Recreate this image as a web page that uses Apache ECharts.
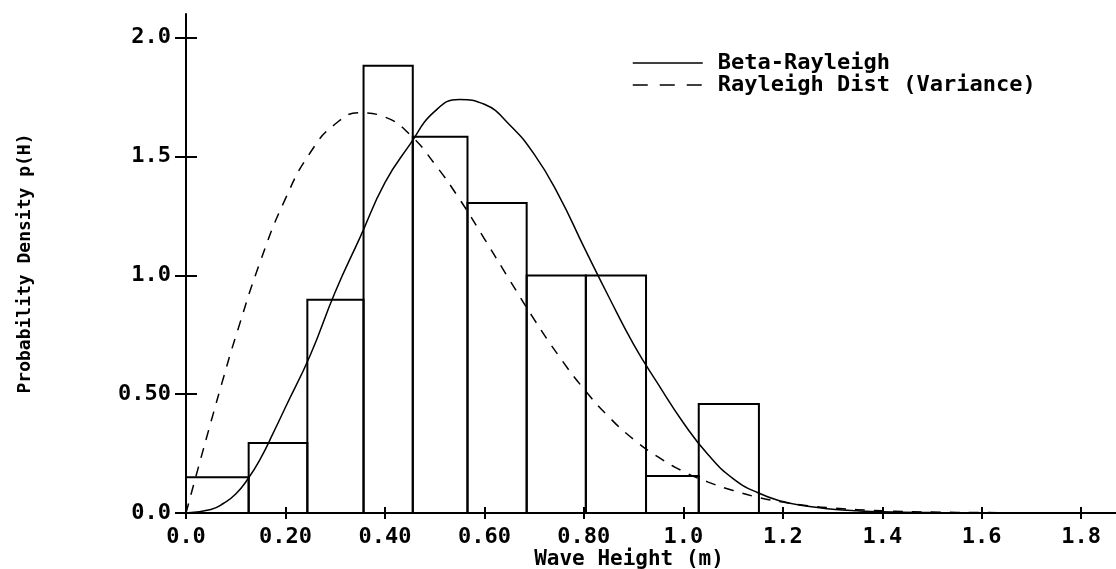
<!DOCTYPE html>
<html>
<head>
<meta charset="utf-8">
<script src="https://cdn.jsdelivr.net/npm/echarts@6/dist/echarts.min.js"></script>
<style>html,body{margin:0;padding:0;background:#fff;}#c{width:1116px;height:569px;}</style>
</head>
<body>
<div id="c"></div>
<script>
// Histogram bins (wave height, m) and observed probability density
const binStart  = [0, 0.126, 0.244, 0.357, 0.456, 0.566, 0.685, 0.804, 0.925, 1.031];
const binEnd    = [0.126, 0.244, 0.357, 0.456, 0.566, 0.685, 0.804, 0.925, 1.031, 1.152];
const binHeight = [0.15, 0.295, 0.897, 1.882, 1.583, 1.305, 1.0, 1.0, 0.156, 0.459];

// Beta-Rayleigh curve
const betaH = [0, 0.05, 0.075, 0.1, 0.125, 0.15, 0.175, 0.2, 0.25, 0.3, 0.35, 0.4, 0.45, 0.5, 0.55, 0.6, 0.65, 0.7, 0.75, 0.8, 0.85, 0.9, 0.95, 1.0, 1.05, 1.1, 1.15, 1.2, 1.25, 1.3, 1.35, 1.4, 1.5, 1.6, 1.7, 1.87];
const betaP = [0, 0.015, 0.04, 0.08, 0.145, 0.23, 0.335, 0.445, 0.665, 0.93, 1.16, 1.39, 1.55, 1.69, 1.74, 1.72, 1.635, 1.51, 1.335, 1.12, 0.91, 0.71, 0.54, 0.38, 0.245, 0.145, 0.085, 0.048, 0.028, 0.016, 0.009, 0.005, 0.002, 0.001, 0.0005, 0];

// Rayleigh distribution (variance) curve
const rayH = [0, 0.025, 0.05, 0.075, 0.1, 0.15, 0.2, 0.25, 0.3, 0.35, 0.4, 0.45, 0.5, 0.55, 0.6, 0.65, 0.7, 0.75, 0.8, 0.85, 0.9, 0.95, 1.0, 1.05, 1.1, 1.15, 1.2, 1.25, 1.3, 1.4, 1.5, 1.6, 1.7, 1.87];
const rayP = [0, 0.193, 0.382, 0.567, 0.743, 1.062, 1.323, 1.517, 1.637, 1.684, 1.666, 1.593, 1.469, 1.321, 1.154, 0.983, 0.815, 0.66, 0.522, 0.405, 0.31, 0.235, 0.175, 0.13, 0.095, 0.066, 0.046, 0.031, 0.021, 0.009, 0.004, 0.002, 0.001, 0];

// Tick values and labels
const xTickValues = [0, 0.2, 0.4, 0.6, 0.8, 1.0, 1.2, 1.4, 1.6, 1.8];
const xTickLabels = ['0.0', '0.20', '0.40', '0.60', '0.80', '1.0', '1.2', '1.4', '1.6', '1.8'];
const yTickValues = [0, 0.5, 1.0, 1.5, 2.0];
const yTickLabels = ['0.0', '0.50', '1.0', '1.5', '2.0'];

const seriesNames = ['Beta-Rayleigh', 'Rayleigh Dist (Variance)'];
const xName = 'Wave Height (m)';
const yName = 'Probability Density p(H)';

const FONT = '"DejaVu Sans Mono", monospace';
const XMIN = 0, XMAX = 1.87, YMIN = 0, YMAX = 2.1;

function labelFor(values, labels) {
  return function (v) {
    for (let i = 0; i < values.length; i++) if (Math.abs(values[i] - v) < 1e-6) return labels[i];
    return '';
  };
}

const histData = binStart.map((s, i) => [s, binEnd[i], binHeight[i]]);
const betaData = betaH.map((h, i) => [h, betaP[i]]);
const rayData = rayH.map((h, i) => [h, rayP[i]]);

const chart = echarts.init(document.getElementById('c'), null, {renderer: 'canvas'});
chart.setOption({
  backgroundColor: '#fff',
  animation: false,
  grid: {left: 186, right: 0, top: 14, bottom: 56, containLabel: false, outerBoundsMode: 'none'},
  legend: {
    orient: 'vertical',
    left: 632,
    top: 52,
    padding: 0,
    itemWidth: 70,
    itemHeight: 14,
    itemGap: 0,
    selectedMode: false,
    itemStyle: {opacity: 0},
    textStyle: {fontFamily: FONT, fontWeight: 'bold', fontSize: 22, color: '#000', padding: [0, 0, 0, 10]},
    data: [
      {name: seriesNames[0], itemStyle: {opacity: 0}, lineStyle: {color: '#000', width: 1.5, type: 'solid'}},
      {name: seriesNames[1], itemStyle: {opacity: 0}, lineStyle: {color: '#000', width: 1.5, type: [15, 12]}}
    ]
  },
  xAxis: [
    {
      type: 'value', min: XMIN, max: XMAX,
      name: xName, nameLocation: 'middle', nameGap: 36, nameMoveOverlap: false,
      nameTextStyle: {fontFamily: FONT, fontWeight: 'bold', fontSize: 21, color: '#000', padding: [0, 44, 0, 0]},
      axisLine: {show: true, onZero: false, lineStyle: {color: '#000', width: 2}},
      axisTick: {show: true, inside: true, length: 6, customValues: xTickValues, lineStyle: {color: '#000', width: 2}},
      axisLabel: {show: true, margin: 13, customValues: xTickValues, formatter: labelFor(xTickValues, xTickLabels),
                  fontFamily: FONT, fontWeight: 'bold', fontSize: 22, color: '#000'},
      splitLine: {show: false}
    },
    {
      type: 'value', min: XMIN, max: XMAX, position: 'bottom',
      axisLine: {show: false},
      axisTick: {show: true, inside: false, length: 6, customValues: xTickValues, lineStyle: {color: '#000', width: 2}},
      axisLabel: {show: false},
      splitLine: {show: false}
    }
  ],
  yAxis: [
    {
      type: 'value', min: YMIN, max: YMAX,
      name: yName, nameLocation: 'middle', nameGap: 152, nameRotate: 90, nameMoveOverlap: false,
      nameTextStyle: {fontFamily: FONT, fontWeight: 'bold', fontSize: 18, color: '#000'},
      axisLine: {show: true, onZero: false, lineStyle: {color: '#000', width: 2}},
      axisTick: {show: true, inside: true, length: 11, customValues: yTickValues, lineStyle: {color: '#000', width: 2}},
      axisLabel: {show: true, margin: 15, customValues: yTickValues, formatter: labelFor(yTickValues, yTickLabels),
                  fontFamily: FONT, fontWeight: 'bold', fontSize: 22, color: '#000'},
      splitLine: {show: false}
    },
    {
      type: 'value', min: YMIN, max: YMAX, position: 'left',
      axisLine: {show: false},
      axisTick: {show: true, inside: false, length: 11, customValues: yTickValues, lineStyle: {color: '#000', width: 2}},
      axisLabel: {show: false},
      splitLine: {show: false}
    }
  ],
  series: [
    {
      type: 'custom',
      name: 'Histogram',
      xAxisIndex: 0, yAxisIndex: 0,
      encode: {x: [0, 1], y: 2},
      data: histData,
      renderItem: function (params, api) {
        const p0 = api.coord([api.value(0), 0]);
        const p1 = api.coord([api.value(1), api.value(2)]);
        return {
          type: 'rect',
          shape: {x: p0[0], y: p1[1], width: p1[0] - p0[0], height: p0[1] - p1[1]},
          style: {fill: 'none', stroke: '#000', lineWidth: 2}
        };
      },
      silent: true
    },
    {
      type: 'line', name: seriesNames[0], data: betaData,
      xAxisIndex: 0, yAxisIndex: 0,
      symbol: 'none', smooth: 0.5,
      lineStyle: {color: '#000', width: 1.5, type: 'solid'},
      itemStyle: {color: '#000'}
    },
    {
      type: 'line', name: seriesNames[1], data: rayData,
      xAxisIndex: 0, yAxisIndex: 0,
      symbol: 'none', smooth: 0.5,
      lineStyle: {color: '#000', width: 1.5, type: [10, 9]},
      itemStyle: {color: '#000'}
    }
  ]
});
</script>
</body>
</html>
